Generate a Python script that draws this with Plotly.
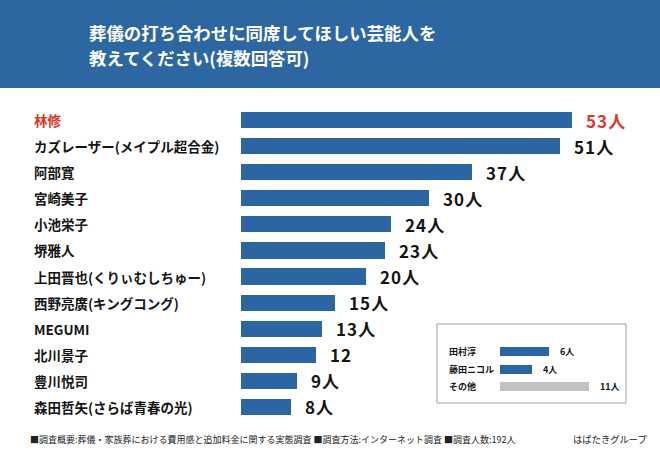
import plotly.graph_objects as go

W, H = 660, 450

# ---- data ----
names = ["林修", "カズレーザー(メイプル超合金)", "阿部寛", "宮崎美子", "小池栄子", "堺雅人",
         "上田晋也(くりぃむしちゅー)", "西野亮廣(キングコング)", "MEGUMI", "北川景子",
         "豊川悦司", "森田哲矢(さらば青春の光)"]
values = [53, 51, 37, 30, 24, 23, 20, 15, 13, 12, 9, 8]
value_labels = ["53人", "51人", "37人", "30人", "24人", "23人", "20人", "15人", "13人", "12", "9人", "8人"]

inset_names = ["田村淳", "藤田ニコル", "その他"]
inset_values = [6, 4, 11]
inset_labels = ["6人", "4人", "11人"]

title_lines = ["葬儀の打ち合わせに同席してほしい芸能人を", "教えてください(複数回答可)"]
footer_left = "■調査概要:葬儀・家族葬における費用感と追加料金に関する実態調査 ■調査方法:インターネット調査 ■調査人数:192人"
footer_right = "はばたきグループ"

BLUE = "#2b66a3"
RED = "#e0342c"
GRAY = "#c2c1c6"
TXT = "#151515"
FONT = "Noto Sans CJK JP"

def px(x):
    return x / W

def py(y):
    return 1 - y / H

def spaced(s):
    return "\u200a".join(s)

fig = go.Figure()

fig.add_trace(go.Bar(
    x=values, y=names, orientation="h", marker=dict(color=BLUE, line=dict(width=0)),
    width=0.62, xaxis="x", yaxis="y", hoverinfo="skip", showlegend=False))

inset_colors = [BLUE, BLUE, GRAY]
fig.add_trace(go.Bar(
    x=inset_values, y=inset_names, orientation="h",
    marker=dict(color=inset_colors, line=dict(width=0)),
    width=0.52, xaxis="x2", yaxis="y2", hoverinfo="skip", showlegend=False))

annotations = []
for i, (n, v, lab) in enumerate(zip(names, values, value_labels)):
    col = RED if i == 0 else TXT
    annotations.append(dict(
        x=px(32), xref="paper", y=n, yref="y", xanchor="left", yanchor="middle",
        text=n, showarrow=False, font=dict(family=FONT, size=13.5, color=col, weight="bold")))
    annotations.append(dict(
        x=v, xref="x", y=n, yref="y", xanchor="left", yanchor="middle", xshift=12,
        text=spaced(lab), showarrow=False,
        font=dict(family=FONT, size=17, color=col, weight="bold")))

for n, v, lab in zip(inset_names, inset_values, inset_labels):
    annotations.append(dict(
        x=px(447), xref="paper", y=n, yref="y2", xanchor="left", yanchor="middle",
        text=n, showarrow=False, font=dict(family=FONT, size=9, color=TXT, weight="bold")))
    annotations.append(dict(
        x=v, xref="x2", y=n, yref="y2", xanchor="left", yanchor="middle", xshift=9,
        text=lab, showarrow=False, font=dict(family=FONT, size=9, color=TXT, weight="bold")))

for k, (line, yc) in enumerate(zip(title_lines, [32, 58])):
    annotations.append(dict(
        x=px(87), xref="paper", y=py(yc), yref="paper", xanchor="left", yanchor="middle",
        text=line, showarrow=False, font=dict(family=FONT, size=17.4, color="white", weight="bold")))

annotations.append(dict(
    x=px(28), xref="paper", y=py(439), yref="paper", xanchor="left", yanchor="middle",
    text=footer_left, showarrow=False, font=dict(family=FONT, size=9, color="#222222")))
annotations.append(dict(
    x=px(650), xref="paper", y=py(439), yref="paper", xanchor="right", yanchor="middle",
    text=footer_right, showarrow=False, font=dict(family=FONT, size=9.3, color="#222222")))

shapes = [
    dict(type="rect", xref="paper", yref="paper", x0=0, x1=1, y0=py(88), y1=1,
         fillcolor="#2d67a1", line=dict(width=0), layer="below"),
    dict(type="rect", xref="paper", yref="paper", x0=px(437), x1=px(626), y0=py(403), y1=py(324),
         fillcolor="rgba(0,0,0,0)", line=dict(color="#a0a0a0", width=1), layer="below"),
]

fig.update_layout(
    width=W, height=H, margin=dict(l=0, r=0, t=0, b=0),
    paper_bgcolor="white", plot_bgcolor="rgba(0,0,0,0)",
    font=dict(family=FONT),
    bargap=0,
    xaxis=dict(domain=[px(241), px(616)], range=[0, 60], visible=False, fixedrange=True),
    yaxis=dict(domain=[py(420), py(107)], range=[11.5, -0.5], visible=False,
               type="category", categoryorder="array", categoryarray=names, fixedrange=True),
    xaxis2=dict(domain=[px(500), px(597)], range=[0, 12], visible=False, anchor="y2", fixedrange=True),
    yaxis2=dict(domain=[py(395.5), py(343)], range=[2.5, -0.5], visible=False, anchor="x2",
                type="category", categoryorder="array", categoryarray=inset_names, fixedrange=True),
    annotations=annotations, shapes=shapes,
)

fig.write_html("out.html")
